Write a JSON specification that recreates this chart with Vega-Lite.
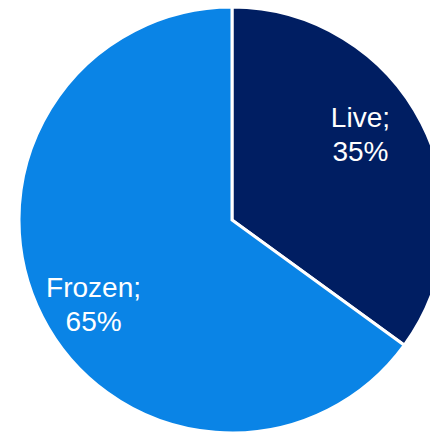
{
  "$schema": "https://vega.github.io/schema/vega-lite/v6.json",
  "autosize": {"type": "none"},
  "width": 396,
  "height": 424,
  "padding": {"left": 34, "top": 8, "right": 0, "bottom": 0},
  "background": "white",
  "config": {"view": {"stroke": null}},
  "data": {"values": [
    {"type": "Live", "share": 35, "label": "Live;|35%"},
    {"type": "Frozen", "share": 65, "label": "Frozen;|65%"}
  ]},
  "encoding": {
    "theta": {"field": "share", "type": "quantitative", "stack": true},
    "order": {"field": "share", "type": "quantitative", "sort": "ascending"}
  },
  "layer": [
    {
      "mark": {"type": "arc", "outerRadius": 213, "stroke": "white", "strokeWidth": 3},
      "encoding": {
        "color": {"field": "type", "type": "nominal", "legend": null,
          "scale": {"domain": ["Live", "Frozen"], "range": ["#001E62", "#0A84E6"]}}
      }
    },
    {
      "mark": {"type": "text", "radius": 158, "thetaOffset": -0.094, "dx": -5, "dy": -16, "fill": "white", "fontSize": 28, "font": "Liberation Sans", "lineBreak": "|", "lineHeight": 34, "align": "center", "baseline": "middle"},
      "encoding": {"text": {"field": "label"}}
    }
  ]
}
